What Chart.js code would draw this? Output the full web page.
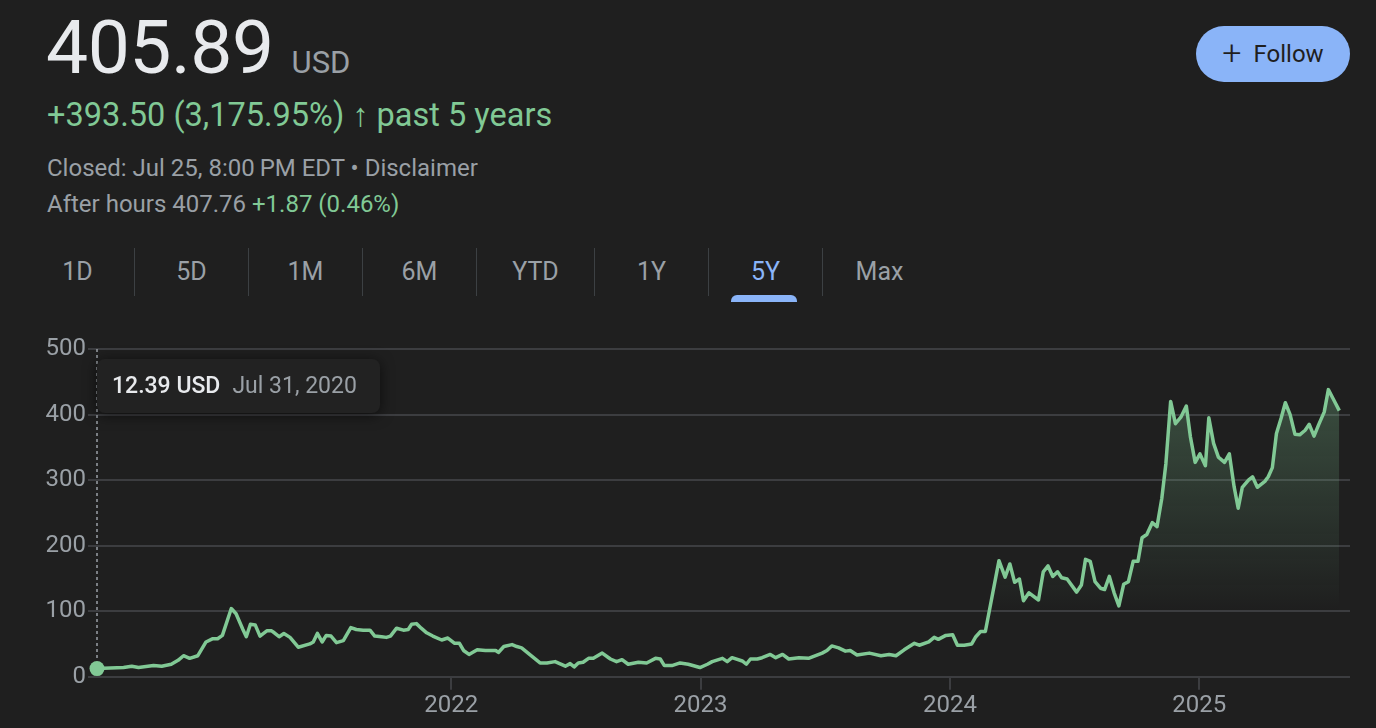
<!DOCTYPE html>
<html>
<head>
<meta charset="utf-8">
<script src="https://cdn.jsdelivr.net/npm/chart.js@4.4.1/dist/chart.umd.min.js"></script>
<style>
  html, body { margin: 0; padding: 0; background: #1f1f1f; }
  body { width: 1376px; height: 728px; position: relative; overflow: hidden; font-family: Roboto, "Noto Sans", sans-serif; }
  .price { position: absolute; left: 46px; top: 3px; font-size: 75px; color: #e8eaed; letter-spacing: -0.5px; }
  .price span { font-size: 31px; color: #9aa0a6; margin-left: 18px; letter-spacing: 0; }
  .change { position: absolute; left: 47px; top: 96px; font-size: 32.5px; color: #81c995; }
  .change b { font-weight: 900; }
  .meta { position: absolute; left: 47px; font-size: 24px; color: #9aa0a6; }
  .meta .up { color: #81c995; }
  .follow { position: absolute; left: 1196px; top: 26px; width: 154px; height: 56px; border-radius: 28px;
    background: #8ab4f8; color: #1f1f1f; font-size: 24px; display: flex; align-items: center; justify-content: center; gap: 12px; }
  .tabs { position: absolute; left: 21px; top: 248px; height: 48px; display: flex; }
  .tab { width: 113px; text-align: center; font-size: 25px; color: #9aa0a6; line-height: 48px; position: relative; }
  .tab + .tab { border-left: 1px solid #3c4043; }
  .tab.on { color: #8ab4f8; }
  .tab.on::after { content: ""; position: absolute; left: 22px; right: 25px; bottom: -6px; height: 7px; background: #8ab4f8; border-radius: 6px 6px 0 0; }
  #wrap { position: absolute; left: 0; top: 330px; width: 1376px; height: 398px; }
  .tip { position: absolute; left: 97px; top: 359px; width: 283px; height: 54px; background: #222222; border-radius: 8px;
    box-shadow: 0 2px 14px rgba(0,0,0,0.6); font-size: 23px; line-height: 54px; white-space: nowrap; }
  .tip b { font-weight: 500; color: #e8eaed; margin-left: 15px; }
  .tip i { font-style: normal; color: #9aa0a6; margin-left: 12px; }
</style>
</head>
<body>
<div class="price">405.89<span>USD</span></div>
<div class="change">+393.50 (3,175.95%) <b>↑</b> past 5 years</div>
<div class="meta" style="top:154px">Closed: Jul 25, 8:00&#8201;PM EDT • Disclaimer</div>
<div class="meta" style="top:190px">After hours 407.76 <span class="up">+1.87 (0.46%)</span></div>
<div class="follow"><span style="font-size:34px;font-weight:300;margin-top:-4px">+</span><span>Follow</span></div>
<div class="tabs">
  <div class="tab">1D</div><div class="tab">5D</div><div class="tab">1M</div><div class="tab">6M</div>
  <div class="tab" style="width:117px">YTD</div><div class="tab">1Y</div><div class="tab on">5Y</div><div class="tab">Max</div>
</div>
<div id="wrap"><canvas id="chart"></canvas></div>
<div class="tip"><b>12.39 USD</b><i>Jul 31, 2020</i></div>

<script>
const dates = [
  "2020-07-31","2020-09-08","2020-09-20","2020-09-30","2020-10-22","2020-11-03","2020-11-17","2020-11-27","2020-12-05","2020-12-14","2020-12-26",
  "2021-01-07","2021-01-17","2021-01-24","2021-01-31","2021-02-13","2021-02-20","2021-03-02","2021-03-07","2021-03-13","2021-03-20","2021-03-27",
  "2021-04-06","2021-04-13","2021-04-17","2021-04-24","2021-05-01","2021-05-10","2021-05-22","2021-06-08","2021-06-13","2021-06-19","2021-06-26",
  "2021-07-02","2021-07-09","2021-07-17","2021-07-27","2021-08-07","2021-08-15","2021-08-25","2021-09-04","2021-09-11","2021-09-21","2021-09-28",
  "2021-10-04","2021-10-13","2021-10-23","2021-10-30","2021-11-04","2021-11-11","2021-11-18","2021-11-26","2021-12-05","2021-12-18","2021-12-27",
  "2022-01-06","2022-01-13","2022-01-19","2022-01-27","2022-02-08","2022-02-20","2022-03-07","2022-03-11","2022-03-19","2022-03-31","2022-04-07",
  "2022-04-14","2022-04-27","2022-05-11","2022-05-21","2022-06-02","2022-06-17","2022-06-24","2022-06-30","2022-07-06","2022-07-13","2022-07-21",
  "2022-07-28","2022-08-10","2022-08-22","2022-08-31","2022-09-08","2022-09-17","2022-10-02","2022-10-14","2022-10-27","2022-11-03","2022-11-09",
  "2022-11-20","2022-12-02","2022-12-14","2022-12-31",
  "2023-01-11","2023-01-18","2023-02-02","2023-02-09","2023-02-16","2023-03-03","2023-03-09","2023-03-15","2023-03-25","2023-04-01","2023-04-13",
  "2023-04-21","2023-05-01","2023-05-10","2023-05-25","2023-06-08","2023-06-28","2023-07-05","2023-07-12","2023-07-22","2023-08-01","2023-08-08",
  "2023-08-18","2023-09-05","2023-09-22","2023-10-04","2023-10-14","2023-10-26","2023-11-10","2023-11-17","2023-12-01","2023-12-09","2023-12-15",
  "2023-12-26",
  "2024-01-05","2024-01-12","2024-01-22","2024-02-02","2024-02-08","2024-02-15","2024-02-22","2024-03-13","2024-03-22","2024-03-29","2024-04-05",
  "2024-04-12","2024-04-18","2024-04-26","2024-05-10","2024-05-17","2024-05-24","2024-05-31","2024-06-07","2024-06-13","2024-06-21","2024-07-05",
  "2024-07-12","2024-07-18","2024-07-25","2024-08-01","2024-08-09","2024-08-15","2024-08-22","2024-08-29","2024-09-05","2024-09-12","2024-09-19",
  "2024-09-26","2024-10-03","2024-10-09","2024-10-16","2024-10-24","2024-10-31","2024-11-07","2024-11-13","2024-11-20","2024-11-27","2024-12-05",
  "2024-12-13","2024-12-19","2024-12-26",
  "2025-01-02","2025-01-10","2025-01-15","2025-01-22","2025-01-29","2025-02-07","2025-02-14","2025-02-21","2025-02-27","2025-03-05","2025-03-14",
  "2025-03-20","2025-03-27","2025-04-07","2025-04-12","2025-04-18","2025-04-24","2025-05-01","2025-05-07","2025-05-14","2025-05-21","2025-05-28",
  "2025-06-05","2025-06-11","2025-06-18","2025-06-25","2025-07-03","2025-07-09","2025-07-16","2025-07-25"
];
const prices = [
  12.39,14,16,14,17,16,19,25,32,28,32,
  53,58,58,63,104,96,72,61,80,79,62,
  70,70,67,61,66,60,45,50,53,66,53,
  63,62,52,55,75,72,71,71,62,61,60,
  62,74,71,72,80,81,74,67,62,56,59,
  51,51,40,34,41,40,40,37,46,49,46,
  44,33,21,21,23,16,20,15,21,22,28,
  28,36,27,23,26,19,22,21,28,27,17,
  17,21,19,14,
  19,23,28,23,29,24,19,27,27,29,34,
  29,34,27,29,28,36,40,47,44,39,40,
  33,36,32,34,32,41,51,48,53,60,57,
  63,
  64,48,48,50,61,69,69,177,152,172,144,
  149,116,128,117,160,169,153,160,151,149,129,
  140,179,176,145,135,133,153,128,108,141,145,
  176,176,212,217,235,229,272,325,420,386,396,
  413,366,327,
  340,322,395,356,335,327,340,290,257,289,300,
  305,289,298,305,319,371,395,418,400,370,369,
  376,385,367,385,404,438,424,405.89
];
const yTicks = [0, 100, 200, 300, 400, 500];
const yearTicks = [2022, 2023, 2024, 2025];

function toYear(s) {
  const d = new Date(s + "T00:00:00Z");
  const y = d.getUTCFullYear();
  const start = Date.UTC(y, 0, 1), end = Date.UTC(y + 1, 0, 1);
  return y + (d - start) / (end - start);
}

const points = dates.map((d, i) => ({ x: toYear(d), y: prices[i] }));
const green = "#81c995";
const gridColor = "#3c3d40";
const labelColor = "#9aa0a6";

// dashed crosshair from the top of the plot down to the hovered (first) point
const crosshair = {
  id: "crosshair",
  afterDatasetsDraw(chart) {
    const meta = chart.getDatasetMeta(0).data[0];
    const ctx = chart.ctx;
    ctx.save();
    ctx.strokeStyle = "#9aa0a6";
    ctx.lineWidth = 1.5;
    ctx.setLineDash([3, 3]);
    ctx.beginPath();
    ctx.moveTo(meta.x, chart.chartArea.top);
    ctx.lineTo(meta.x, meta.y - 8);
    ctx.stroke();
    ctx.restore();
  }
};

new Chart(document.getElementById("chart"), {
  type: "line",
  data: {
    datasets: [{
      data: points,
      borderColor: green,
      borderWidth: 3.5,
      borderJoinStyle: "round",
      tension: 0,
      clip: 12,
      pointRadius: c => c.dataIndex === 0 ? 7.5 : 0,
      pointBackgroundColor: green,
      pointBorderWidth: 0,
      fill: "origin",
      backgroundColor: c => {
        const area = c.chart.chartArea;
        if (!area) return "rgba(0,0,0,0)";
        const ys = c.chart.scales.y;
        const g = c.chart.ctx.createLinearGradient(0, ys.getPixelForValue(430), 0, ys.getPixelForValue(100));
        g.addColorStop(0, "rgba(129,201,149,0.27)");
        g.addColorStop(1, "rgba(129,201,149,0)");
        return g;
      }
    }]
  },
  options: {
    responsive: true,
    maintainAspectRatio: false,
    animation: false,
    layout: { padding: { top: 19, right: 26, bottom: 0, left: 0 } },
    plugins: { legend: { display: false }, tooltip: { enabled: false } },
    scales: {
      x: {
        type: "linear",
        min: toYear("2020-07-31") - 5 / 249.3,
        max: toYear("2025-07-25") + 10.7 / 249.3,
        afterBuildTicks: s => { s.ticks = yearTicks.map(v => ({ value: v })); },
        afterFit: s => { s.height = 51.3; },
        border: { display: false },
        grid: { drawOnChartArea: false, color: gridColor, tickLength: 13, lineWidth: 2 },
        ticks: { color: labelColor, font: { family: "Roboto", size: 24 }, padding: 2, maxRotation: 0, callback: v => String(v) }
      },
      y: {
        min: 0,
        max: 500,
        afterBuildTicks: s => { s.ticks = yTicks.map(v => ({ value: v })); },
        afterFit: s => { s.width = 92; },
        border: { display: false },
        grid: { color: gridColor, lineWidth: 2, tickLength: 4 },
        ticks: { color: labelColor, font: { family: "Roboto", size: 24 }, padding: 2 }
      }
    }
  },
  plugins: [crosshair]
});
</script>
</body>
</html>
